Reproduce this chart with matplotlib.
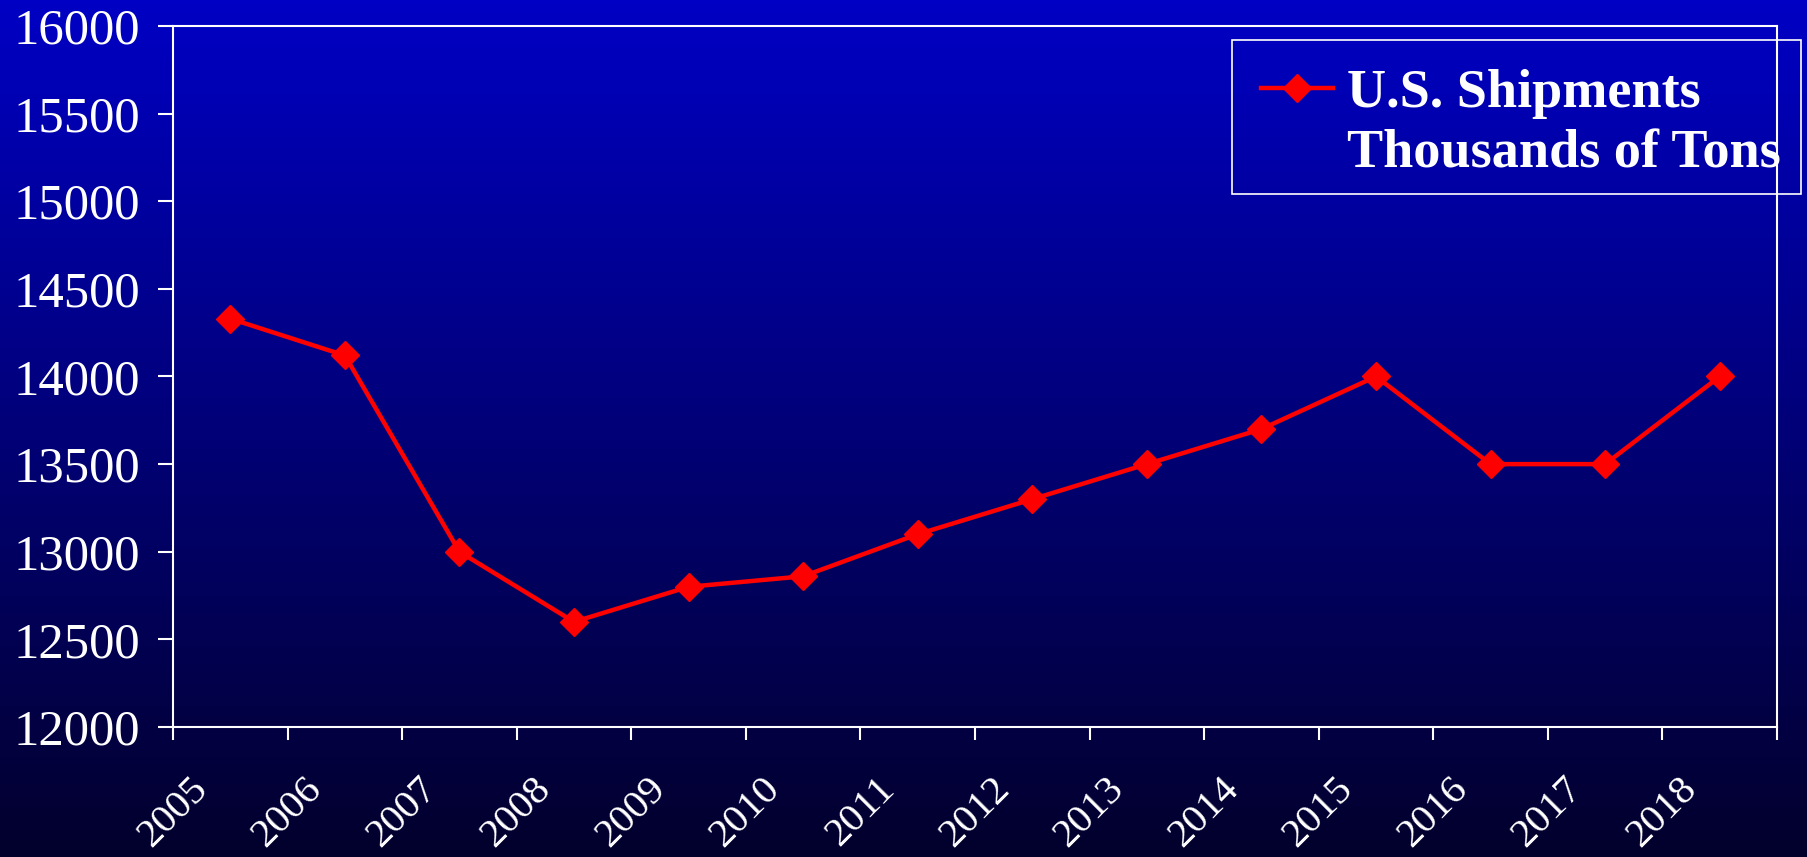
import matplotlib
matplotlib.use("Agg")
import matplotlib.pyplot as plt
from matplotlib.lines import Line2D
from matplotlib.patches import Rectangle
import numpy as np

plt.rcParams['font.family'] = ['Liberation Serif', 'DejaVu Serif']

years = ['2005', '2006', '2007', '2008', '2009', '2010', '2011',
         '2012', '2013', '2014', '2015', '2016', '2017', '2018']
shipments = [14330, 14120, 13000, 12600, 12800, 12860, 13100,
             13300, 13500, 13700, 14000, 13500, 13500, 14000]
series_label = ['U.S. Shipments', 'Thousands of Tons']
y_ticks = [12000, 12500, 13000, 13500, 14000, 14500, 15000, 15500, 16000]

W, H = 1808, 857
fig = plt.figure(figsize=(W / 100, H / 100), dpi=100)

# slide background: vertical blue gradient
bg = fig.add_axes([0, 0, 1, 1], zorder=0)
grad = np.linspace(0, 1, 256).reshape(-1, 1)
top = np.array([0.0, 0.0, 0.77])
bottom = np.array([0.01, 0.0, 0.17])
img = top + (bottom - top) * grad[:, :, None]
bg.imshow(img, aspect='auto', extent=[0, 1, 0, 1], origin='upper')
bg.set_axis_off()

ax = fig.add_axes([173/W, 1 - 727/H, (1777 - 173)/W, (727 - 26)/H], zorder=1)
ax.patch.set_visible(False)

x = np.arange(len(years))
line, = ax.plot(x, shipments, color='#FF0000', lw=3.2, marker='D', ms=14,
                mfc='#FF0000', mec='#FF0000', solid_joinstyle='miter')

ax.set_xlim(-0.5, len(years) - 0.5)
ax.set_ylim(12000, 16000)

# category axis: ticks on boundaries, labels centred on left boundary
ax.set_xticks(x - 0.5)
ax.set_xticklabels(years, rotation=45, fontsize=29.5, color='white')
ax.set_xticks([len(years) - 0.5], minor=True)
ax.tick_params(axis='x', which='both', direction='out', length=9.4, width=1.5,
               color='white', pad=22)

ax.set_yticks(y_ticks)
ax.set_yticklabels([str(v) for v in y_ticks], fontsize=36.5, color='white')
ax.tick_params(axis='y', direction='out', length=10.8, width=1.5,
               color='white', pad=13)

for s in ax.spines.values():
    s.set_color('white')
    s.set_linewidth(1.5)

# legend: entries without frame, box drawn separately (handle sits on first line)
blank = Line2D([], [], alpha=0)
leg = ax.legend([line, blank], series_label, loc='upper left',
                bbox_to_anchor=(1261/W, 1 - 69/H), bbox_transform=fig.transFigure,
                borderaxespad=0, borderpad=0, handlelength=1.33, handletextpad=0.26,
                labelspacing=0.2, frameon=False,
                prop={'family': ['Liberation Serif', 'DejaVu Serif'], 'weight': 'bold', 'size': 39})
for t in leg.get_texts():
    t.set_color('white')

frame = Rectangle((1232/W, 1 - 194/H), (1801 - 1232)/W, (194 - 40)/H,
                  transform=fig.transFigure, fill=False, edgecolor='white',
                  linewidth=1.2, zorder=5)
fig.add_artist(frame)

fig.savefig('out.png', dpi=100)
